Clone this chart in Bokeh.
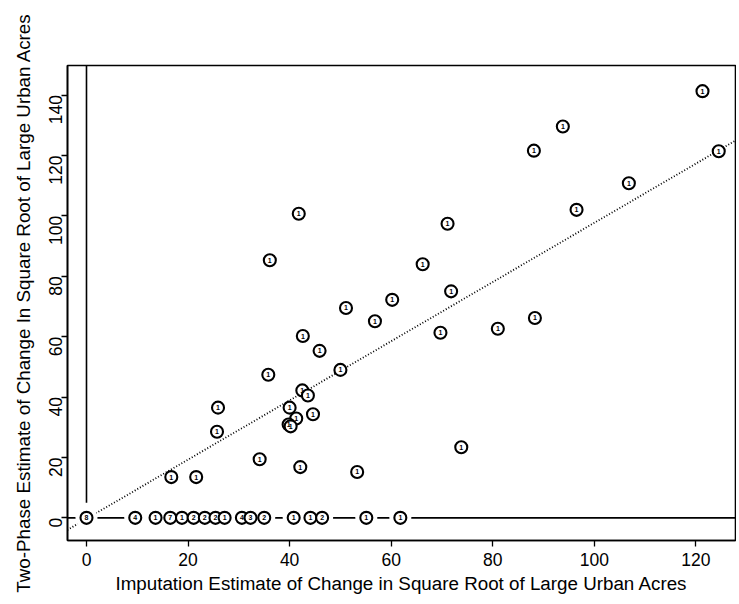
import numpy as np
from bokeh.plotting import figure
from bokeh.models import Span, Slope, Range1d, FixedTicker, ColumnDataSource
from bokeh.core.properties import value
from bokeh.embed import file_html
from bokeh.resources import INLINE

# ---- data ----
pts_x = [121.3, 124.5, 106.8, 96.5, 93.8, 88.1, 71.1, 66.2, 71.8, 69.7, 81.0, 88.3,
         41.8, 36.1, 60.2, 51.1, 56.8, 42.6, 45.9, 50.0, 35.8, 42.5, 43.6, 25.9,
         40.0, 44.6, 41.3, 39.8, 40.2, 25.7, 34.1, 42.1, 16.7, 21.6, 53.3, 73.8]
pts_y = [141.3, 121.4, 110.8, 102.0, 129.6, 121.6, 97.4, 84.0, 75.0, 61.3, 62.6, 66.2,
         100.7, 85.3, 72.2, 69.5, 65.1, 60.2, 55.3, 49.0, 47.4, 42.2, 40.5, 36.5,
         36.5, 34.3, 32.9, 30.9, 30.3, 28.5, 19.4, 16.8, 13.5, 13.5, 15.2, 23.4]
pts_lab = ["1"] * len(pts_x)

zero_x = [0.0, 9.6, 13.6, 16.5, 18.8, 21.1, 23.3, 25.4, 27.2, 30.6, 32.3, 35.0,
          40.8, 44.1, 46.4, 55.1, 61.8]
zero_y = [0.0] * len(zero_x)
zero_lab = ["8", "4", "1", "7", "1", "2", "2", "2", "1", "4", "3", "2",
            "1", "1", "2", "1", "1"]

fit_slope = 0.98
fit_intercept = -0.3
hline_y = 0.0
vline_x = 0.0
vline_y0 = 5.0

x_ticks = [0, 20, 40, 60, 80, 100, 120]
y_ticks = [0, 20, 40, 60, 80, 100, 120, 140]

x_label = "Imputation Estimate of Change in Square Root of Large Urban Acres"
y_label = "Two-Phase Estimate of Change In Square Root of Large Urban Acres"

FONT = "Liberation Sans"

p = figure(width=736, height=596, output_backend="svg", toolbar_location=None,
           x_range=Range1d(-3.74, 127.8), y_range=Range1d(-7.5, 149.8),
           min_border_left=67, min_border_right=1, min_border_top=65, min_border_bottom=51)

p.xgrid.visible = False
p.ygrid.visible = False
p.outline_line_color = "black"
p.outline_line_width = 1.6
p.background_fill_color = "white"
p.border_fill_color = "white"

for ax in (p.xaxis[0], p.yaxis[0]):
    ax.axis_line_color = "black"
    ax.axis_line_width = 1.6
    ax.major_tick_line_width = 1.3
    ax.major_tick_out = 6
    ax.major_tick_in = 0
    ax.minor_tick_out = 0
    ax.minor_tick_in = 0
    ax.major_label_text_font = FONT
    ax.major_label_text_font_size = "17.5px"
    ax.major_label_text_color = "black"
    ax.axis_label_text_font = FONT
    ax.axis_label_text_font_size = "18.8px"
    ax.axis_label_text_font_style = "normal"
    ax.axis_label_text_color = "black"
    ax.major_label_standoff = 6

p.xaxis.ticker = FixedTicker(ticks=x_ticks)
p.yaxis.ticker = FixedTicker(ticks=y_ticks)
p.yaxis.major_label_orientation = np.pi / 2
p.xaxis.axis_label = x_label
p.yaxis.axis_label = y_label
p.xaxis.axis_label_standoff = 4
p.yaxis.axis_label_standoff = 6

# reference lines
hl = Span(location=hline_y, dimension="width", line_color="black", line_width=1.6, level="underlay")
p.add_layout(hl)
p.segment(x0=[vline_x], y0=[vline_y0], x1=[vline_x], y1=[p.y_range.end],
          line_color="black", line_width=1.6)
fit = Slope(gradient=fit_slope, y_intercept=fit_intercept, line_color="black",
            line_width=1.8, line_dash="1 2", level="underlay")
p.add_layout(fit)

zsrc = ColumnDataSource(dict(x=zero_x, y=zero_y, t=zero_lab))
psrc = ColumnDataSource(dict(x=pts_x, y=pts_y, t=pts_lab))

# white halo around the zero-line points
p.scatter("x", "y", source=zsrc, size=22, marker="circle", fill_color="white", line_color=None)

for src in (zsrc, psrc):
    p.scatter("x", "y", source=src, size=12, marker="circle", fill_color="white",
              line_color="black", line_width=2.1)
    p.text("x", "y", text="t", source=src, text_font=value(FONT), text_font_size="7px",
           text_font_style="bold", text_align="center", text_baseline="middle",
           text_color="black")

open("out.html", "w").write(file_html(p, INLINE))
